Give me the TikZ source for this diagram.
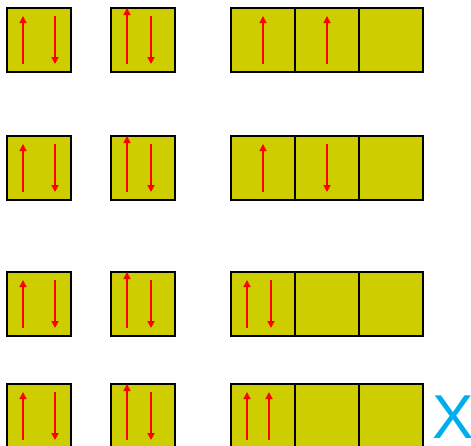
\documentclass[tikz,border=0pt]{standalone}
\usepackage{fontspec}
\setmainfont{Liberation Sans}
\usetikzlibrary{arrows.meta}
\definecolor{boxfill}{RGB}{205,205,0}
\definecolor{xblue}{RGB}{0,174,239}
\tikzset{
  cell/.style={draw=black, line width=1.2pt, fill=boxfill, minimum width=64pt, minimum height=64pt, inner sep=0pt, outer sep=0pt, anchor=north west},
  spin/.style={red, line width=1.4pt, -{Triangle[length=7pt,width=7pt]}}
}
\begin{document}
\begin{tikzpicture}[x=1pt,y=-1pt]
\useasboundingbox (0,0) rectangle (471,445);
% rows at y = 8, 136, 272, 384
\foreach \r/\y in {1/8,2/136,3/272,4/384}{
  \node[cell] (a\r) at (7,\y) {};
  \node[cell] (b\r) at (111,\y) {};
  \node[cell] (c\r) at (231,\y) {};
  \node[cell] (d\r) at (295,\y) {};
  \node[cell] (e\r) at (359,\y) {};
  % box a: up and down
  \draw[spin] (23,\y+56) -- (23,\y+8);
  \draw[spin] (55,\y+8) -- (55,\y+56);
  % box b: long up and down
  \draw[spin] (127,\y+56) -- (127,\y);
  \draw[spin] (151,\y+8) -- (151,\y+56);
}
% row 1: up, up
\draw[spin] (263,64) -- (263,16);
\draw[spin] (327,64) -- (327,16);
% row 2: up, down
\draw[spin] (263,192) -- (263,144);
\draw[spin] (327,144) -- (327,192);
% row 3: up/down in first cell
\draw[spin] (247,328) -- (247,280);
\draw[spin] (271,280) -- (271,328);
% row 4: up/up in first cell
\draw[spin] (247,440) -- (247,392);
\draw[spin] (269,440) -- (269,392);
\node[text=xblue, font=\fontsize{62}{62}\selectfont, inner sep=0pt] (x) at (453,417) {X};
\end{tikzpicture}
\end{document}
